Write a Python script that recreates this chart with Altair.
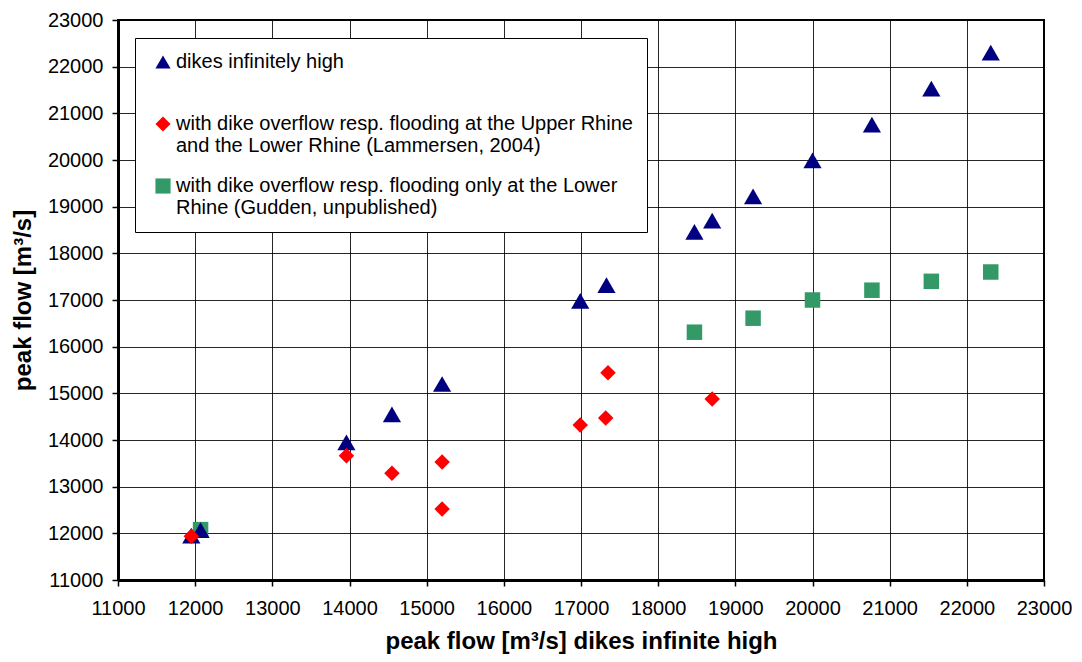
import altair as alt
import pandas as pd

series_names = [
    "dikes infinitely high",
    "with dike overflow resp. flooding at the Upper Rhine\nand the Lower Rhine (Lammersen, 2004)",
    "with dike overflow resp. flooding only at the Lower\nRhine (Gudden, unpublished)",
]
series_colors = ["#000080", "#FF0000", "#339966"]
series_shapes = ["triangle-up", "diamond", "square"]

blue_x = [11950, 12070, 13960, 14550, 15200, 16990, 17330, 18470, 18700, 19230, 20000, 20770, 21540, 22310]
blue_y = [11950, 12070, 13950, 14550, 15200, 16980, 17320, 18460, 18700, 19220, 19990, 20760, 21530, 22300]

red_x = [11950, 13960, 14550, 15200, 15200, 16990, 17320, 17350, 18700]
red_y = [11940, 13660, 13290, 13530, 12520, 14320, 14470, 15440, 14880]

green_x = [12070, 18470, 19230, 20000, 20770, 21540, 22310]
green_y = [12080, 16310, 16610, 17000, 17210, 17400, 17600]

ticks = list(range(11000, 23001, 1000))

rows = []
for x, y in zip(green_x, green_y):
    rows.append({"x": x, "y": y, "series": series_names[2], "order": 0})
for x, y in zip(blue_x, blue_y):
    rows.append({"x": x, "y": y, "series": series_names[0], "order": 1})
for x, y in zip(red_x, red_y):
    rows.append({"x": x, "y": y, "series": series_names[1], "order": 2})
df = pd.DataFrame(rows)

FONT = "Liberation Sans"

legend = alt.Legend(
    title=None,
    orient="none",
    legendX=17,
    legendY=18,
    fillColor="white",
    strokeColor="black",
    padding=14,
    symbolOffset=4,
    labelOffset=3,
    labelFontSize=20,
    labelFont=FONT,
    labelColor="black",
    labelLimit=0,
    symbolSize=230,
    rowPadding=20,
    gridAlign="all",
    labelExpr="split(datum.label, '\\n')",
)

chart = (
    alt.Chart(df)
    .mark_point(filled=True, opacity=1)
    .encode(
        x=alt.X(
            "x:Q",
            scale=alt.Scale(domain=[11000, 23000], nice=False, zero=False),
            axis=alt.Axis(
                values=ticks,
                format="d",
                title="peak flow [m³/s] dikes infinite high",
                labelPadding=12,
                titlePadding=11,
                labelOverlap=False,
                labelFlush=False,
            ),
        ),
        y=alt.Y(
            "y:Q",
            scale=alt.Scale(domain=[11000, 23000], nice=False, zero=False),
            axis=alt.Axis(
                values=ticks,
                format="d",
                title="peak flow [m³/s]",
                labelPadding=9,
                titlePadding=12,
                labelOverlap=False,
                labelFlush=False,
            ),
        ),
        color=alt.Color(
            "series:N",
            scale=alt.Scale(domain=series_names, range=series_colors),
            legend=legend,
        ),
        shape=alt.Shape(
            "series:N",
            scale=alt.Scale(domain=series_names, range=series_shapes),
            legend=legend,
        ),
        size=alt.condition(
            alt.datum.series == series_names[0], alt.value(330), alt.value(240)
        ),
        order=alt.Order("order:Q"),
    )
    .properties(
        width=926,
        height=560,
        autosize=alt.AutoSizeParams(type="none"),
        padding={"left": 110, "top": 12, "right": 30, "bottom": 74},
        background="white",
    )
    .configure_view(stroke="black", strokeWidth=2)
    .configure_axis(
        labelFont=FONT,
        labelFontSize=20,
        labelColor="black",
        titleFont=FONT,
        titleFontSize=24,
        titleFontWeight="bold",
        titleColor="black",
        domainColor="black",
        domainWidth=3,
        tickColor="black",
        tickSize=6,
        tickWidth=1.5,
        gridColor="black",
        gridWidth=1,
        gridOpacity=0.85,
    )
)

chart.save("out.html", embed_options={"renderer": "svg", "actions": False})
